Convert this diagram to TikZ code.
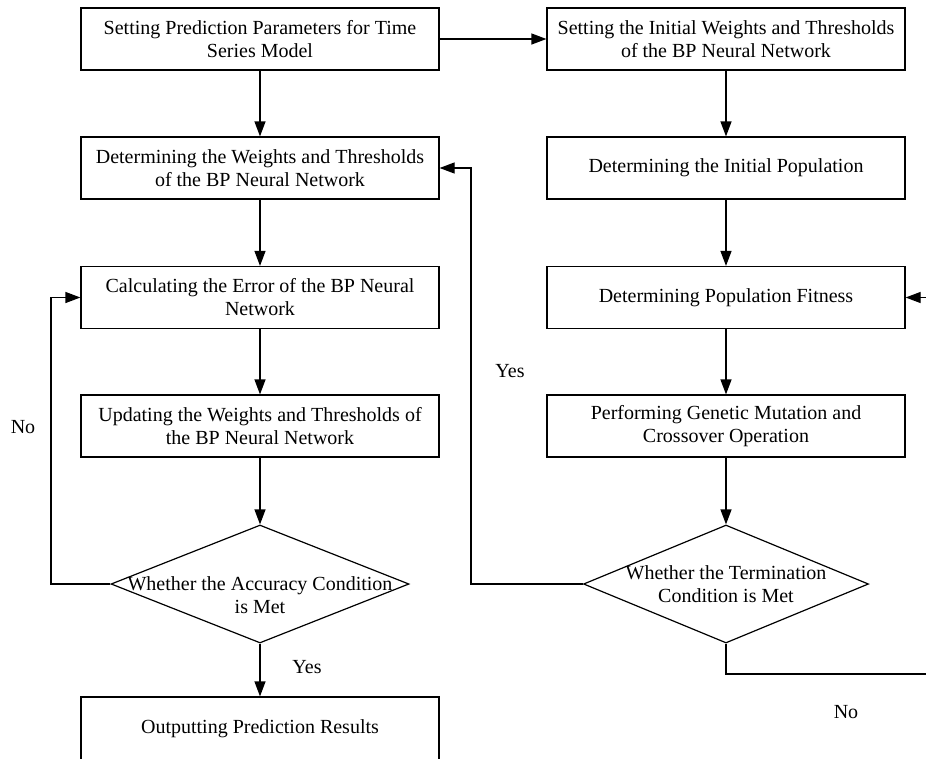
\documentclass[tikz,border=0pt]{standalone}
\usepackage{fontspec}
\setmainfont{Liberation Serif}
\usetikzlibrary{shapes.geometric,arrows.meta}
\begin{document}
\begin{tikzpicture}[x=1pt,y=1pt,
  every node/.style={font=\fontsize{20}{23}\selectfont, text=black},
  procbox/.style={draw, line width=1.2pt, rectangle, minimum width=358pt, minimum height=62pt, inner sep=0pt, align=center},
  decbox/.style={draw, line width=1.2pt, diamond, inner sep=0pt},
  lbl/.style={inner sep=0pt, align=center},
  conn/.style={line width=1.2pt, -{Triangle[length=15pt,width=11pt]}},
  plain/.style={line width=1.2pt}
]
\useasboundingbox (0,0) rectangle (926,-758);
\clip (0,0) rectangle (926,-758);
\fill[white] (0,0) rectangle (926,-758);

% left column
\node[procbox] (b1) at (260,-39) {Setting Prediction Parameters for Time\\Series Model};
\node[procbox] (b2) at (260,-168) {Determining the Weights and Thresholds\\of the BP Neural Network};
\node[procbox] (b3) at (260,-297.5) {Calculating the Error of the BP Neural\\Network};
\node[procbox] (b4) at (260,-426) {Updating the Weights and Thresholds of\\the BP Neural Network};
\node[decbox, minimum width=298pt, minimum height=118pt] (d1) at (260,-584) {};
\node[lbl] (d1t) at (260,-595.5) {Whether the Accuracy Condition\\is Met};
\node[procbox, minimum height=63pt] (b5) at (260,-728.5) {Outputting Prediction Results};

% right column
\node[procbox] (r1) at (726,-39) {Setting the Initial Weights and Thresholds\\of the BP Neural Network};
\node[procbox] (r2) at (726,-168) {Determining the Initial Population};
\node[procbox] (r3) at (726,-297.5) {Determining Population Fitness};
\node[procbox] (r4) at (726,-426) {Performing Genetic Mutation and\\Crossover Operation};
\node[decbox, minimum width=285pt, minimum height=118pt] (d2) at (726,-584) {};
\node[lbl] (d2t) at (726,-584.5) {Whether the Termination\\Condition is Met};

% labels
\node[lbl] (no1) at (23,-427) {No};
\node[lbl] (yes1) at (307,-667) {Yes};
\node[lbl] (yes2) at (510,-371) {Yes};
\node[lbl] (no2) at (846,-712) {No};

\coordinate (ca) at (51,-584);
\coordinate (cb) at (471,-584);
\coordinate (cc) at (726,-674);
\coordinate (cd) at (950,-674);

% connectors
\draw[conn] (b1) -- (r1);
\draw[conn] (b1) -- (b2);
\draw[conn] (b2) -- (b3);
\draw[conn] (b3) -- (b4);
\draw[conn] (b4) -- (d1.north);
\draw[conn] (d1.south) -- (b5);
\draw[conn] (r1) -- (r2);
\draw[conn] (r2) -- (r3);
\draw[conn] (r3) -- (r4);
\draw[conn] (r4) -- (d2.north);
\draw[conn] (d1.west) -- (ca) |- (b3.west);
\draw[conn] (d2.west) -- (cb) |- (b2.east);
\draw[conn] (d2.south) -- (cc) -- (cd) |- (r3.east);
\end{tikzpicture}
\end{document}
